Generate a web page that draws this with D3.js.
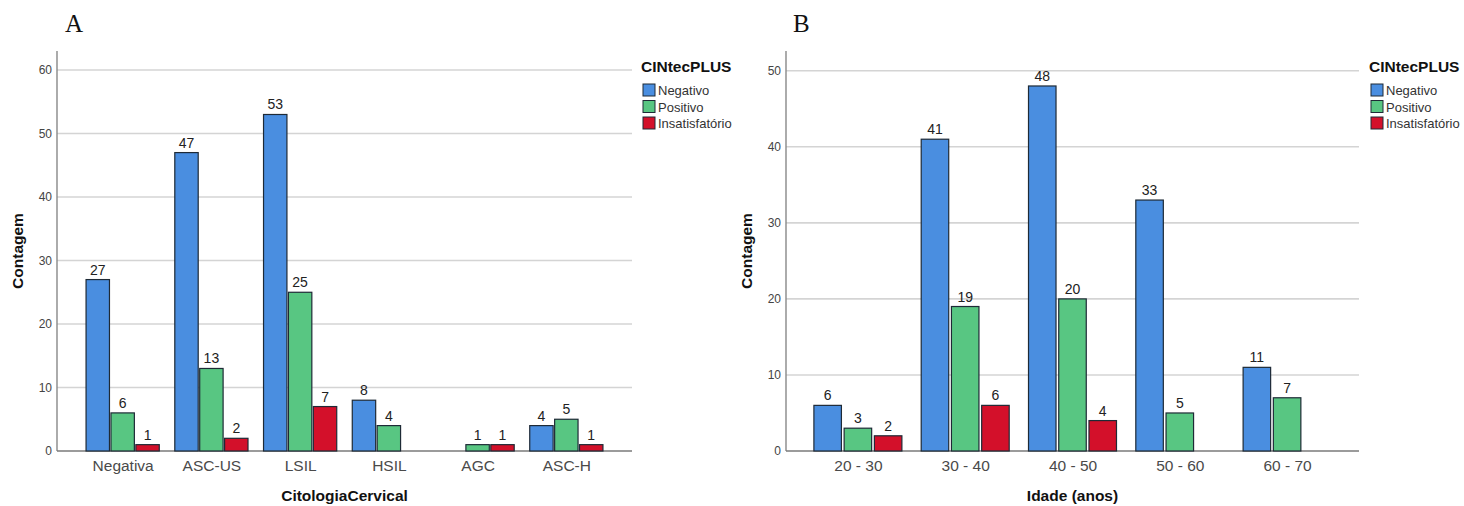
<!DOCTYPE html>
<html>
<head>
<meta charset="utf-8">
<script src="https://cdn.jsdelivr.net/npm/d3@7"></script>
<style>
  html, body { margin: 0; padding: 0; background: #fff; }
  svg { display: block; }
  text { font-family: "Liberation Sans", Arial, sans-serif; }
</style>
</head>
<body>
<svg id="chart" width="1464" height="506"></svg>
<script>
// Result groups (legend CINtecPLUS)
const seriesNames = ["Negativo", "Positivo", "Insatisfatório"];
const seriesColors = ["#4a8ee0", "#58c682", "#d3102a"];

// Panel A: counts by cervical cytology
const citologiaCats = ["Negativa", "ASC-US", "LSIL", "HSIL", "AGC", "ASC-H"];
const citologiaNegativo = [27, 47, 53, 8, 0, 4];
const citologiaPositivo = [6, 13, 25, 4, 1, 5];
const citologiaInsatisfatorio = [1, 2, 7, 0, 1, 1];
const citologiaTicks = [0, 10, 20, 30, 40, 50, 60];

// Panel B: counts by age group
const idadeCats = ["20 - 30", "30 - 40", "40 - 50", "50 - 60", "60 - 70"];
const idadeNegativo = [6, 41, 48, 33, 11];
const idadePositivo = [3, 19, 20, 5, 7];
const idadeInsatisfatorio = [2, 6, 4, 0, 0];
const idadeTicks = [0, 10, 20, 30, 40, 50];

const svg = d3.select("#chart");

function drawPanel(cfg) {
  const g = svg.append("g");
  const { left, right, top, bottom } = cfg.box;

  const y = d3.scaleLinear().domain([0, cfg.yMax]).range([bottom, top]);
  const x = d3.scalePoint().domain(cfg.cats).range([left, right]).padding(cfg.outerPad);
  const groupW = x.step() * cfg.groupFrac;
  const xs = d3.scaleBand().domain(seriesNames).range([-groupW / 2, groupW / 2])
    .paddingInner(cfg.barGap).paddingOuter(0);

  // panel letter
  g.append("text")
    .attr("x", cfg.letterX).attr("y", 32)
    .style("font-family", "'Liberation Serif', 'Times New Roman', serif")
    .style("font-size", "25px").attr("fill", "#111")
    .text(cfg.letter);

  // gridlines
  g.append("g").selectAll("line")
    .data(cfg.ticks.filter(t => t > 0))
    .join("line")
    .attr("x1", left).attr("x2", right)
    .attr("y1", d => y(d)).attr("y2", d => y(d))
    .attr("stroke", "#d4d4d4").attr("stroke-width", 1.6);

  // y axis
  const yAxis = g.append("g").attr("transform", `translate(${left},0)`)
    .call(d3.axisLeft(y).tickValues(cfg.ticks).tickSize(0).tickPadding(5));
  yAxis.select(".domain").remove();
  yAxis.selectAll("text")
    .style("font-size", "12px").attr("fill", "#444");
  g.append("line")
    .attr("x1", left).attr("x2", left).attr("y1", top).attr("y2", bottom)
    .attr("stroke", "#888").attr("stroke-width", 1.4);

  // x axis
  const xAxis = g.append("g").attr("transform", `translate(0,${bottom})`)
    .call(d3.axisBottom(x).tickSize(0).tickPadding(9));
  xAxis.select(".domain").remove();
  xAxis.selectAll("text")
    .style("font-size", "15.5px").attr("fill", "#4a4a4a");
  g.append("line")
    .attr("x1", left).attr("x2", right).attr("y1", bottom).attr("y2", bottom)
    .attr("stroke", "#7a7a7a").attr("stroke-width", 1.4);

  // bars
  const rows = [];
  cfg.cats.forEach((c, i) => {
    cfg.series.forEach((vals, k) => {
      if (vals[i] > 0) rows.push({ cat: c, s: seriesNames[k], k, v: vals[i] });
    });
  });

  g.append("g").selectAll("rect")
    .data(rows)
    .join("rect")
    .attr("x", d => x(d.cat) + xs(d.s))
    .attr("y", d => y(d.v))
    .attr("width", xs.bandwidth())
    .attr("height", d => y(0) - y(d.v))
    .attr("fill", d => seriesColors[d.k])
    .attr("stroke", "#1e2a36").attr("stroke-width", 1.2);

  g.append("g").selectAll("text")
    .data(rows)
    .join("text")
    .attr("x", d => x(d.cat) + xs(d.s) + xs.bandwidth() / 2)
    .attr("y", d => y(d.v) - 5)
    .attr("text-anchor", "middle")
    .style("font-size", "14px").attr("fill", "#222")
    .text(d => d.v);

  // axis titles
  g.append("text")
    .attr("transform", `translate(${cfg.yTitleX},${(top + bottom) / 2}) rotate(-90)`)
    .attr("text-anchor", "middle")
    .style("font-size", "15.5px").style("font-weight", "bold").attr("fill", "#111")
    .text("Contagem");
  g.append("text")
    .attr("x", (left + right) / 2).attr("y", 501)
    .attr("text-anchor", "middle")
    .style("font-size", "15.5px").style("font-weight", "bold").attr("fill", "#111")
    .text(cfg.xTitle);

  // legend
  const lg = g.append("g").attr("transform", `translate(${cfg.legendX},0)`);
  lg.append("text").attr("x", 0).attr("y", 72)
    .style("font-size", "15.5px").style("font-weight", "bold").attr("fill", "#111")
    .text("CINtecPLUS");
  const items = lg.selectAll("g.item").data(seriesNames).join("g")
    .attr("class", "item")
    .attr("transform", (d, i) => `translate(2,${84 + i * 16.5})`);
  items.append("rect")
    .attr("width", 12).attr("height", 12)
    .attr("fill", (d, i) => seriesColors[i])
    .attr("stroke", "#1e2a36").attr("stroke-width", 1);
  items.append("text")
    .attr("x", 15).attr("y", 11)
    .style("font-size", "13px").attr("fill", "#333")
    .text(d => d);
}

drawPanel({
  letter: "A", letterX: 65,
  box: { left: 57, right: 632, top: 51, bottom: 451 },
  yMax: 63, ticks: citologiaTicks,
  cats: citologiaCats,
  series: [citologiaNegativo, citologiaPositivo, citologiaInsatisfatorio],
  outerPad: 0.74, groupFrac: 0.825, barGap: 0.06,
  yTitleX: 23, xTitle: "CitologiaCervical", legendX: 641
});

drawPanel({
  letter: "B", letterX: 793,
  box: { left: 786, right: 1359, top: 51, bottom: 451 },
  yMax: 52.6, ticks: idadeTicks,
  cats: idadeCats,
  series: [idadeNegativo, idadePositivo, idadeInsatisfatorio],
  outerPad: 0.67, groupFrac: 0.82, barGap: 0.09,
  yTitleX: 752, xTitle: "Idade (anos)", legendX: 1369
});
</script>
</body>
</html>
